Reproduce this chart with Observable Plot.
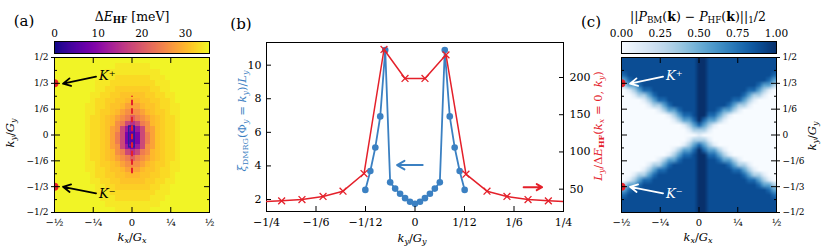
<!DOCTYPE html>
<html><head><meta charset="utf-8">
<script src="https://cdn.jsdelivr.net/npm/d3@7"></script>
<script src="https://cdn.jsdelivr.net/npm/@observablehq/plot@0.6"></script>
<style>
html,body{margin:0;padding:0;background:#fff;}
#fig{position:relative;width:830px;height:246px;overflow:hidden;background:#fff;}
#fig svg{position:absolute;left:0;top:0;}
</style></head><body><div id="fig"></div>
<script>
const FONT = "'DejaVu Serif', serif";
const RED = "#e4202a";
const BLUE = "#3b80c2";
const BOX = "#2b1ca0";

// ---------- Panel (a): ΔE_HF [meV], one base-36 digit per cell (row 0 = top) ----------
const heatA_rows = [
"zzzzzzzzzzzzzzzzzzzzzzzzzzzzzzz",
"zzzzzzzzzzzzyyyyyyyzzzzzzzzzzzz",
"zzzzzzzzzzyyyyyyyyyyyzzzzzzzzzz",
"zzzzzzzzzyyyxxxxxxxyyyzzzzzzzzz",
"zzzzzzzzyyyxxxxxxxxxyyyzzzzzzzz",
"zzzzzzzzyyxxwwwwwwwxxyyzzzzzzzz",
"zzzzzzzyyxxwwvvvvvwwxxyyzzzzzzz",
"zzzzzzzyxxwwvvuuuvvwwxxyzzzzzzz",
"zzzzzzyyxxwvvusssuvvwxxyyzzzzzz",
"zzzzzzyyxwwvusqqqsuvwwxyyzzzzzz",
"zzzzzzyxxwvusqoloqsuvwxxyzzzzzz",
"zzzzzzyxxwvuqoifioquvwxxyzzzzzz",
"zzzzzzyxxwvsqic9ciqsvwxxyzzzzzz",
"zzzzzzyxxwvsoi969iosvwxxyzzzzzz",
"zzzzzzyxxwvsoi969iosvwxxyzzzzzz",
"zzzzzzyxxwvsqic9ciqsvwxxyzzzzzz",
"zzzzzzyxxwvuqoifioquvwxxyzzzzzz",
"zzzzzzyxxwvusqoloqsuvwxxyzzzzzz",
"zzzzzzyyxwwvusqqqsuvwwxyyzzzzzz",
"zzzzzzyyxxwvvusssuvvwxxyyzzzzzz",
"zzzzzzzyxxwwvvuuuvvwwxxyzzzzzzz",
"zzzzzzzyyxxwwvvvvvwwxxyyzzzzzzz",
"zzzzzzzzyyxxwwwwwwwxxyyzzzzzzzz",
"zzzzzzzzyyyxxxxxxxxxyyyzzzzzzzz",
"zzzzzzzzzyyyxxxxxxxyyyzzzzzzzzz",
"zzzzzzzzzzyyyyyyyyyyyzzzzzzzzzz",
"zzzzzzzzzzzzyyyyyyyzzzzzzzzzzzz"
];
const dEDomain = [0, 35.5];
const dETicks = [0, 10, 20, 30];
const dashKx = [0];
const dashKy = [-0.25, 0.25];
const boxKx = [-0.018, 0.018];
const boxKy = [-0.08, 0.055];

// ---------- Panel (c): ||P_BM - P_HF||/2, digit d -> d/9 (row 0 = top) ----------
const heatC_rows = [
"8888888888888889988888888888888",
"8888888888888889988888888888888",
"8888888888888889988888888888888",
"7888888888888889988888888888887",
"5788888888888889988888888888875",
"3557888888888889988888888887553",
"0135778888888889988888888775310",
"0013357888888889988888887533100",
"0000135778888889988888775310000",
"0000013357888889988887533100000",
"0000000135578889988755310000000",
"0000000001357789977531000000000",
"0000000000135579755310000000000",
"0000000000001357531000000000000",
"0000000000000133310000000000000",
"0000000000000001000000000000000",
"0000000000000133310000000000000",
"0000000000001357531000000000000",
"0000000000135579755310000000000",
"0000000001357789977531000000000",
"0000000135578889988755310000000",
"0000013357888889988887533100000",
"0000135778888889988888775310000",
"0013357888888889988888887533100",
"0135778888888889988888888775310",
"3557888888888889988888888887553",
"5788888888888889988888888888875",
"7888888888888889988888888888887",
"8888888888888889988888888888888",
"8888888888888889988888888888888",
"8888888888888889988888888888888"
];
const pDomain = [0, 1];
const pTicks = [0, 0.25, 0.5, 0.75, 1];

// K points and annotations (shared by (a) and (c))
const kDotX = [-0.5, -0.5];
const kDotY = [1/3, -1/3];
const kTailX = [-0.232, -0.232];
const kTailY = [0.377, -0.376];
const kTipX = [-0.445, -0.445];
const kTipY = [0.331, -0.334];
const kTextX = [-0.213, -0.213];
const kTextY = [0.384, -0.378];
const kText = ["K⁺", "K⁻"];

// heatmap axes ticks
const fracVals = [0.5, 1/3, 1/6, 0, -1/6, -1/3, -0.5];
const fracLabels = ["1/2", "1/3", "1/6", "0", "−1/6", "−1/3", "−1/2"];
const minorVals = [5/12, 1/4, 1/12, -1/12, -1/4, -5/12];
const quarterVals = [-0.5, -0.25, 0, 0.25, 0.5];
const quarterLabels = ["−½", "−¼", "0", "¼", "½"];

// ---------- Panel (b) ----------
const kyBlue = [-0.0836, -0.0752, -0.0668, -0.0585, -0.0501, -0.0418, -0.0334, -0.0251, -0.0167, -0.0084, 0,
                0.0084, 0.0167, 0.0251, 0.0334, 0.0418, 0.0501, 0.0585, 0.0668, 0.0752, 0.0836];
const xiBlue = [2.57, 3.70, 5.10, 6.95, 10.90, 3.02, 2.65, 2.34, 2.08, 1.87, 1.74,
                1.87, 2.08, 2.34, 2.65, 3.02, 10.90, 6.95, 5.10, 3.70, 2.57];
const kyRed = [-0.2590, -0.2245, -0.1903, -0.1548, -0.1212, -0.0858, -0.0522, -0.0168,
               0.0168, 0.0522, 0.0858, 0.1212, 0.1548, 0.1903, 0.2245, 0.2590];
const ratioRed = [33.0, 34.3, 36.1, 40.2, 47.3, 71.0, 237.6, 198.7,
                  198.7, 230.4, 70.1, 47.3, 40.2, 36.1, 34.3, 33.0];
const bXVals = [-0.25, -1/6, -1/12, 0, 1/12, 1/6, 0.25];
const bXLabels = ["−1/4", "−1/6", "−1/12", "0", "1/12", "1/6", "1/4"];
const xiTicks = [2, 4, 6, 8, 10];
const ratioTicks = [50, 100, 150, 200];
const xiDomain = [1.285, 11.35];
const ratioDomain = [20, 247];
const blueArrowKy = [0.0129, -0.0302];
const blueArrowXi = [4.05, 4.05];
const redArrowKy = [0.1829, 0.2139];
const redArrowR = [52.7, 52.7];

// ---------- layout helpers ----------
const W = 830, H = 246;
const fig = document.getElementById("fig");
function frameOpts(x0, x1, y0, y1, fs) {
  return {width: W, height: H, marginLeft: x0, marginRight: W - x1, marginTop: y0, marginBottom: H - y1,
    style: {background: "transparent", fontFamily: FONT, fontSize: fs + "px", overflow: "visible"}};
}
function add(p) { fig.appendChild(p); }
const fracMap = new Map(fracVals.map((v, i) => [v, fracLabels[i]]));
const quarterMap = new Map(quarterVals.map((v, i) => [v, quarterLabels[i]]));
const bMap = new Map(bXVals.map((v, i) => [v, bXLabels[i]]));
const kIdx = kText.map((_, i) => i);

function heatTicks(labelSide) {
  return [
    Plot.axisY(fracVals, {anchor: "left", tickSize: -6, fill: "none", label: null}),
    Plot.axisY(minorVals, {anchor: "left", tickSize: -3, fill: "none", label: null}),
    Plot.axisY(fracVals, {anchor: "right", tickSize: -6, fill: "none", label: null}),
    Plot.axisY(minorVals, {anchor: "right", tickSize: -3, fill: "none", label: null}),
    Plot.axisY(fracVals, {anchor: labelSide, tickSize: 3, fill: "none", label: null}),
    Plot.axisX(quarterVals, {anchor: "bottom", tickSize: -5, fill: "none", label: null}),
    Plot.axisX(quarterVals, {anchor: "top", tickSize: -5, fill: "none", label: null}),
    Plot.axisY(fracVals, {anchor: labelSide, tickSize: 0, tickPadding: 6, tickFormat: d => fracMap.get(d), label: null}),
    Plot.axisX(quarterVals, {anchor: "bottom", tickSize: 0, tickPadding: 6, tickFormat: d => quarterMap.get(d), label: null, fontSize: 10})
  ];
}
function kMarks(color) {
  return [
    Plot.arrow(kIdx, {x1: i => kTailX[i], y1: i => kTailY[i], x2: i => kTipX[i], y2: i => kTipY[i],
      stroke: color, strokeWidth: 1.8, headLength: 7, headAngle: 55}),
    Plot.text(kIdx, {x: i => kTextX[i], y: i => kTextY[i], text: i => kText[i], fill: color,
      textAnchor: "start", fontStyle: "italic", fontSize: 13}),
    Plot.dot(kIdx, {x: i => kDotX[i], y: i => kDotY[i], r: 4, fill: RED, clip: true})
  ];
}

// ---------- (a) colorbar ----------
add(Plot.plot({
  ...frameOpts(54, 209, 41, 53, 10.5),
  x: {domain: dEDomain, axis: null}, y: {domain: [0, 1], axis: null},
  color: {type: "linear", scheme: "plasma", domain: dEDomain},
  marks: [
    Plot.raster({fill: (x, y) => x, x1: dEDomain[0], x2: dEDomain[1], y1: 0, y2: 1}),
    Plot.frame({stroke: "black"}),
    Plot.axisX(dETicks, {anchor: "top", tickSize: 0, tickPadding: 5, label: null})
  ]
}));

// ---------- (a) heatmap ----------
const heatA = heatA_rows.flatMap(r => Array.from(r, ch => parseInt(ch, 36)));
add(Plot.plot({
  ...frameOpts(54, 209, 57, 212, 9),
  x: {domain: [-0.5, 0.5], axis: null}, y: {domain: [-0.5, 0.5], axis: null},
  color: {type: "linear", scheme: "plasma", domain: dEDomain},
  marks: [
    Plot.raster(heatA, {width: heatA_rows[0].length, height: heatA_rows.length,
      x1: -0.5, x2: 0.5, y1: 0.5, y2: -0.5, fill: d => d, imageRendering: "pixelated"}),
    Plot.rect([0], {x1: boxKx[0], x2: boxKx[1], y1: boxKy[0], y2: boxKy[1], fill: "none", stroke: BOX, strokeWidth: 1.4}),
    Plot.ruleX(dashKx, {y1: dashKy[0], y2: dashKy[1], stroke: RED, strokeWidth: 2, strokeDasharray: "5.5,3"}),
    ...kMarks("black"),
    ...heatTicks("left"),
    Plot.frame({stroke: "black"})
  ]
}));

// ---------- (b) left (blue) ----------
const blueIdx = kyBlue.map((_, i) => i);
const redIdx = kyRed.map((_, i) => i);
add(Plot.plot({
  ...frameOpts(266, 563, 42, 211, 11),
  x: {domain: [-0.25, 0.25], axis: null}, y: {domain: xiDomain, axis: null},
  marks: [
    Plot.line(blueIdx, {x: i => kyBlue[i], y: i => xiBlue[i], stroke: BLUE, strokeWidth: 1.8}),
    Plot.dot(blueIdx, {x: i => kyBlue[i], y: i => xiBlue[i], r: 3.3, fill: BLUE}),
    Plot.arrow([0], {x1: blueArrowKy[0], x2: blueArrowKy[1], y1: blueArrowXi[0], y2: blueArrowXi[1],
      stroke: BLUE, strokeWidth: 2, headLength: 8, headAngle: 60}),
    Plot.frame({stroke: "black"}),
    Plot.axisY(xiTicks, {anchor: "left", tickSize: -5, tickPadding: 10, label: null}),
    Plot.axisX(bXVals, {anchor: "bottom", tickSize: -5, tickPadding: 12, tickFormat: d => bMap.get(d), label: null})
  ]
}));

// ---------- (b) right (red) ----------
add(Plot.plot({
  ...frameOpts(266, 563, 42, 211, 11),
  x: {domain: [-0.25, 0.25], axis: null}, y: {domain: ratioDomain, axis: null},
  marks: [
    Plot.line(redIdx, {x: i => kyRed[i], y: i => ratioRed[i], stroke: RED, strokeWidth: 1.5, clip: true}),
    Plot.dot(redIdx, {x: i => kyRed[i], y: i => ratioRed[i], symbol: "times", r: 3.2, stroke: RED, strokeWidth: 1.3, clip: true}),
    Plot.arrow([0], {x1: redArrowKy[0], x2: redArrowKy[1], y1: redArrowR[0], y2: redArrowR[1],
      stroke: RED, strokeWidth: 2, headLength: 8, headAngle: 60}),
    Plot.axisY(ratioTicks, {anchor: "right", tickSize: -5, tickPadding: 11, label: null})
  ]
}));

// ---------- (c) colorbar ----------
add(Plot.plot({
  ...frameOpts(621, 776, 41, 53, 10.5),
  x: {domain: pDomain, axis: null}, y: {domain: [0, 1], axis: null},
  color: {type: "linear", scheme: "blues", domain: pDomain},
  marks: [
    Plot.raster({fill: (x, y) => x, x1: pDomain[0], x2: pDomain[1], y1: 0, y2: 1}),
    Plot.frame({stroke: "black"}),
    Plot.axisX(pTicks, {anchor: "top", tickSize: 0, tickPadding: 5, tickFormat: d3.format(".2f"), label: null})
  ]
}));

// ---------- (c) heatmap ----------
const heatC = heatC_rows.flatMap(r => Array.from(r, ch => +ch / 9));
add(Plot.plot({
  ...frameOpts(621, 776, 57, 212, 9),
  x: {domain: [-0.5, 0.5], axis: null}, y: {domain: [-0.5, 0.5], axis: null},
  color: {type: "linear", scheme: "blues", domain: pDomain},
  marks: [
    Plot.raster(heatC, {width: heatC_rows[0].length, height: heatC_rows.length,
      x1: -0.5, x2: 0.5, y1: 0.5, y2: -0.5, fill: d => d, imageRendering: "auto"}),
    ...kMarks("white"),
    ...heatTicks("right"),
    Plot.frame({stroke: "black"})
  ]
}));

// ---------- rich text labels ----------
const overlay = d3.create("svg").attr("width", W).attr("height", H).attr("font-family", FONT);
function rich(x, y, parts, size, {rotate = 0, fill = "black", anchor = "middle"} = {}) {
  const t = overlay.append("text")
    .attr("transform", `translate(${x},${y}) rotate(${rotate})`)
    .attr("text-anchor", anchor).attr("dominant-baseline", "central")
    .attr("font-size", size).attr("fill", fill).style("white-space", "pre");
  let shift = 0;
  for (const [s, st = ""] of parts) {
    const sub = st.includes("sub"), sup = st.includes("sup");
    const target = sub ? 0.3 * size : sup ? -0.4 * size : 0;
    const ts = t.append("tspan").text(s);
    if (target !== shift) ts.attr("dy", target - shift);
    shift = target;
    if (sub || sup) ts.attr("font-size", 0.7 * size);
    if (st.includes("it")) ts.attr("font-style", "italic");
    if (st.includes("bf")) ts.attr("font-weight", "bold");
  }
}
rich(24, 21, [["(a)"]], 15);
rich(241, 24, [["(b)"]], 15);
rich(591, 22, [["(c)"]], 15);
rich(132, 16, [["Δ"], ["E", "it"], ["HF", "sub bf"], [" [meV]"]], 12.5);
rich(698, 16, [["||"], ["P", "it"], ["BM", "sub"], ["("], ["k", "bf"], [") − "], ["P", "it"], ["HF", "sub"],
  ["("], ["k", "bf"], [")||"], ["1", "sub"], ["/2"]], 12.5);
const kxLabel = [["k", "it"], ["x", "sub it"], ["/"], ["G", "it"], ["x", "sub it"]];
const kyLabel = [["k", "it"], ["y", "sub it"], ["/"], ["G", "it"], ["y", "sub it"]];
rich(132, 237, kxLabel, 11.5);
rich(698, 237, kxLabel, 11.5);
rich(412, 238, kyLabel, 11.5);
rich(10, 133, kyLabel, 11.5, {rotate: -90});
rich(812, 136, kyLabel, 11.5, {rotate: -90});
rich(242, 121, [["ξ", "it"], ["DMRG", "sub"], ["(Φ"], ["y", "sub it"], [" = "], ["k", "it"], ["y", "sub it"],
  [")/"], ["L", "it"], ["y", "sub it"]], 11.5, {rotate: -90, fill: BLUE});
rich(598, 126, [["L", "it"], ["y", "sub it"], ["/Δ"], ["E", "it"], ["HF", "sub bf"], ["("], ["k", "it"],
  ["x", "sub it"], [" = 0, "], ["k", "it"], ["y", "sub it"], [")"]], 11.5, {rotate: -90, fill: RED});
fig.appendChild(overlay.node());
</script></body></html>
